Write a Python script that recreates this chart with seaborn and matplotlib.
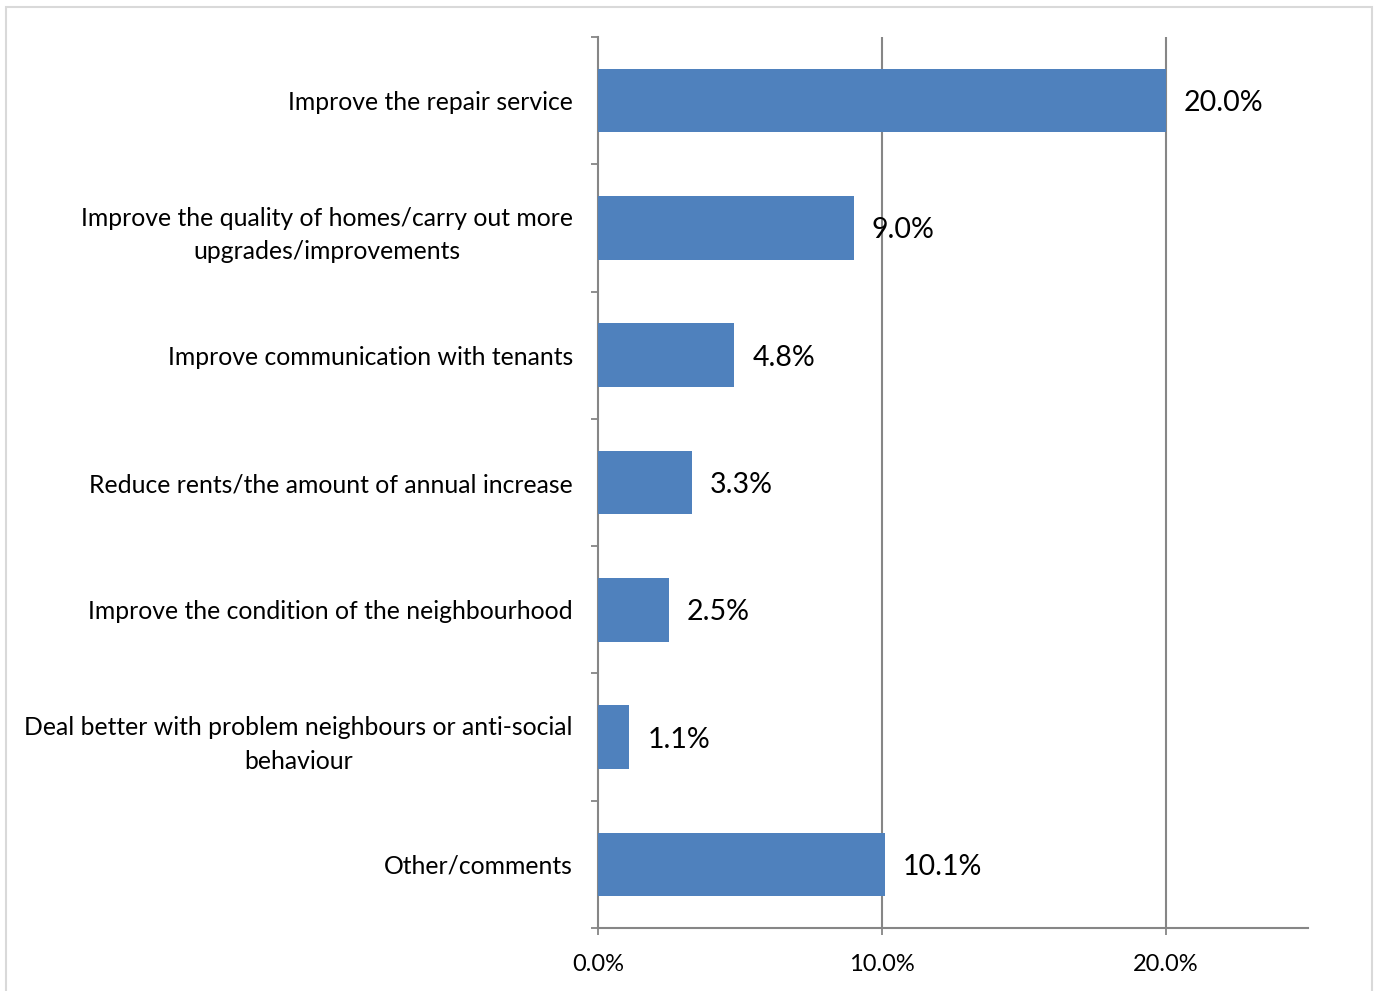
import matplotlib
matplotlib.use("Agg")
import matplotlib.pyplot as plt
from matplotlib.patches import Rectangle
from matplotlib.ticker import FixedLocator, FuncFormatter
import seaborn as sns
import pandas as pd

categories = [
    "Improve the repair service",
    "Improve the quality of homes/carry out more\nupgrades/improvements",
    "Improve communication with tenants",
    "Reduce rents/the amount of annual increase",
    "Improve the condition of the neighbourhood",
    "Deal better with problem neighbours or anti-social\nbehaviour",
    "Other/comments",
]
values = [20.0, 9.0, 4.8, 3.3, 2.5, 1.1, 10.1]
x_ticks = [0, 10, 20]

BAR = "#4F81BD"
GRID = "#868686"

sns.set_theme(style="white")
plt.rcParams["font.family"] = ["Lato", "DejaVu Sans"]

df = pd.DataFrame({"category": categories, "value": values})

fig = plt.figure(figsize=(13.74, 9.91), dpi=100)
ax = fig.add_axes([598 / 1374, 1 - 928 / 991, (1308 - 598) / 1374, (928 - 37) / 991])

sns.barplot(data=df, x="value", y="category", orient="h", color=BAR,
            saturation=1, width=0.5, linewidth=0, ax=ax, zorder=3)

ax.set_xlim(0, 25)
ax.set_ylim(len(categories) - 0.5, -0.5)
ax.set_xlabel("")
ax.set_ylabel("")

# vertical gridlines at the labelled ticks
for t in x_ticks[1:]:
    ax.axvline(t, color=GRID, lw=1.5, zorder=1)

ax.xaxis.set_major_locator(FixedLocator(x_ticks))
ax.xaxis.set_major_formatter(FuncFormatter(lambda v, _: f"{v:.1f}%"))
ax.tick_params(axis="x", which="major", direction="out", length=5, width=1.3,
               color=GRID, labelsize=17, labelcolor="black", pad=14, bottom=True)

# category ticks sit on the slot boundaries
ax.yaxis.set_minor_locator(FixedLocator([i - 0.5 for i in range(len(categories) + 1)]))
ax.tick_params(axis="y", which="minor", direction="out", length=5, width=1.3,
               color=GRID, left=True)
ax.tick_params(axis="y", which="major", length=0, labelsize=17.8,
               labelcolor="black", pad=18)
for lbl in ax.get_yticklabels():
    lbl.set_multialignment("center")
    lbl.set_linespacing(1.55)

for side in ("top", "right"):
    ax.spines[side].set_visible(False)
for side in ("left", "bottom"):
    ax.spines[side].set_color(GRID)
    ax.spines[side].set_linewidth(1.5)

for i, v in enumerate(values):
    ax.annotate(f"{v:.1f}%", xy=(v, i), xytext=(13, 0), textcoords="offset points",
                ha="left", va="center_baseline", fontsize=20.5, color="black", zorder=4)

# outer chart frame
fig.patches.append(Rectangle((6 / 1374, -0.01), (1372 - 6) / 1374, 1.01 - 7 / 991,
                             transform=fig.transFigure, fill=False,
                             edgecolor="#D9D9D9", lw=1.5))

fig.savefig("out.png", dpi=100, facecolor="white")
